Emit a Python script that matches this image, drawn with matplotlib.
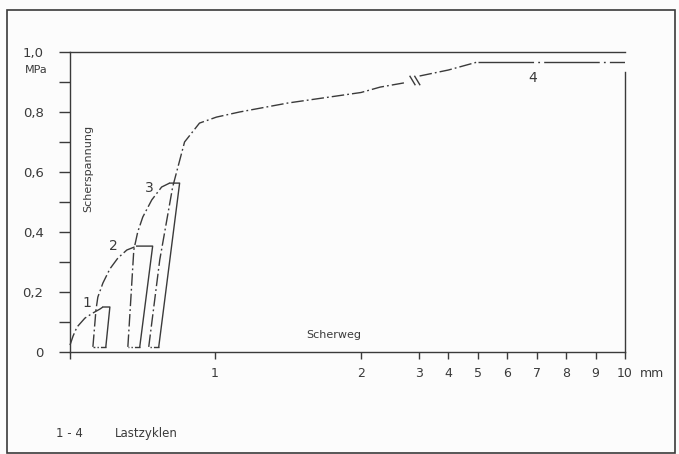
import numpy as np
import matplotlib
matplotlib.use('Agg')
import matplotlib.pyplot as plt
from matplotlib.patches import Rectangle
from matplotlib.path import Path

# Scherweg (mm) and Scherspannung (MPa).
# Envelope / reload curves (dash-dot)
env1_x = [0.0, 0.021, 0.048, 0.103, 0.158, 0.206, 0.227]
env1_y = [0.023, 0.053, 0.083, 0.113, 0.130, 0.143, 0.150]
env2_x = [0.158, 0.179, 0.192, 0.227, 0.275, 0.330, 0.392, 0.460]
env2_y = [0.017, 0.140, 0.183, 0.230, 0.277, 0.313, 0.340, 0.353]
env3_x = [0.399, 0.419, 0.440, 0.467, 0.502, 0.564, 0.632, 0.687]
env3_y = [0.017, 0.173, 0.340, 0.400, 0.450, 0.507, 0.550, 0.563]
env4_x = [0.543, 0.619, 0.708, 0.790, 0.893, 1.01, 1.168, 1.5, 2.0, 2.33, 2.74]
env4_y = [0.017, 0.307, 0.550, 0.700, 0.763, 0.783, 0.800, 0.830, 0.865, 0.883, 0.897]
env4b_x = [3.02, 4.0, 5.0]
env4b_y = [0.920, 0.940, 0.967]
plateau_x = [5.0, 10.0]
plateau_y = [0.967, 0.967]

# Loops: peak hold + unloading (solid), bottom (dash-dot)
loop_top_x = [[0.227, 0.275, 0.247], [0.460, 0.570, 0.481], [0.687, 0.756, 0.612]]
loop_top_y = [[0.150, 0.150, 0.017], [0.353, 0.353, 0.017], [0.563, 0.563, 0.017]]
loop_bot_x = [[0.247, 0.158], [0.481, 0.399], [0.612, 0.543]]
loop_bot_y = [[0.017, 0.017], [0.017, 0.017], [0.017, 0.017]]
unload4_x = [10.0, 10.0]
unload4_y = [0.935, 0.0]

break_x, break_y = 2.88, 0.907

cycle_labels = ['1', '2', '3', '4']
cycle_lab_x = [0.117, 0.296, 0.55, 6.88]
cycle_lab_y = [0.163, 0.353, 0.547, 0.913]

x_ticks = [0, 1, 2, 3, 4, 5, 6, 7, 8, 9, 10]
x_ticklabels = ['', '1', '2', '3', '4', '5', '6', '7', '8', '9', '10']
y_ticks = [0, 0.2, 0.4, 0.6, 0.8, 1.0]
y_ticklabels = ['0', '0,2', '0,4', '0,6', '0,8', '1,0']
y_minor = [0.1, 0.3, 0.5, 0.7, 0.9]

# compressed (piecewise linear) Scherweg axis
knots_mm = [0, 1, 2, 3, 10]
knots_ax = [0, 145, 291, 349, 555]


def fwd(x):
    return np.interp(x, knots_mm, knots_ax)


def inv(u):
    return np.interp(u, knots_ax, knots_mm)


ink = '#3a3a3a'
dashdot = (0, (9, 2.2, 1.3, 2.2))

fig = plt.figure(figsize=(6.79, 4.54), dpi=100, facecolor='#fcfcfc')
ax = fig.add_axes([70 / 679, 102 / 454, 555 / 679, 300 / 454])
ax.set_facecolor('#fcfcfc')
ax.set_xscale('function', functions=(fwd, inv))
ax.set_xlim(0, 10)
ax.set_ylim(0, 1.0)

lw = 1.0
for xs, ys in [(env1_x, env1_y), (env2_x, env2_y), (env3_x, env3_y),
               (env4_x, env4_y), (env4b_x, env4b_y)]:
    ax.plot(xs, ys, color=ink, lw=lw, ls=dashdot, clip_on=False)
ax.plot(plateau_x, plateau_y, color=ink, lw=lw, ls=(0, (40, 3, 1.3, 3)))
for xs, ys in zip(loop_top_x, loop_top_y):
    ax.plot(xs, ys, color=ink, lw=lw)
for xs, ys in zip(loop_bot_x, loop_bot_y):
    ax.plot(xs, ys, color=ink, lw=lw, ls=(0, (4, 1.5, 1, 1.5)))
ax.plot(unload4_x, unload4_y, color=ink, lw=lw, clip_on=False)

# axis break marks on curve 4
brk = Path([(-0.6, 1), (0.6, -1), (0.4, 1), (1.6, -1)],
           [Path.MOVETO, Path.LINETO, Path.MOVETO, Path.LINETO])
ax.plot([break_x], [break_y], marker=brk, ms=11, mec=ink, mew=1.0, ls='none')

for lab, lx, ly in zip(cycle_labels, cycle_lab_x, cycle_lab_y):
    ax.text(lx, ly, lab, fontsize=10, color=ink, ha='center', va='center')

ax.text(0.124, 0.613, 'Scherspannung', rotation=90, fontsize=8, color=ink,
        ha='center', va='center')
ax.text(1.81, 0.057, 'Scherweg', fontsize=8, color=ink, ha='center', va='center')

ax.spines['right'].set_visible(False)
for s in ['left', 'bottom', 'top']:
    ax.spines[s].set_color(ink)
    ax.spines[s].set_linewidth(1.0)

ax.set_xticks(x_ticks)
ax.set_xticklabels(x_ticklabels)
ax.set_xticks([], minor=True)
ax.set_yticks(y_ticks)
ax.set_yticklabels(y_ticklabels)
ax.set_yticks(y_minor, minor=True)
ax.tick_params(axis='x', direction='out', length=5, width=1, color=ink,
               labelcolor=ink, labelsize=9, pad=6)
ax.tick_params(axis='y', which='both', direction='out', length=8, width=1,
               color=ink, labelcolor=ink, labelsize=9.5, pad=11)

fig.text(48 / 679, 1 - 70 / 454, 'MPa', fontsize=8, color=ink, ha='right', va='center')
fig.text(640 / 679, 1 - 377 / 454, 'mm', fontsize=9, color=ink, ha='left', va='baseline')
fig.text(69 / 679, 1 - 437 / 454, '1 - 4', fontsize=8.5, color=ink, ha='center', va='baseline')
fig.text(115 / 679, 1 - 437 / 454, 'Lastzyklen', fontsize=8.5, color=ink, ha='left', va='baseline')

fig.add_artist(Rectangle((7 / 679, 1 / 454), 668 / 679, 443 / 454,
                         transform=fig.transFigure, fill=False, ec=ink, lw=1.2))

fig.savefig('out.png', dpi=100, facecolor=fig.get_facecolor())
